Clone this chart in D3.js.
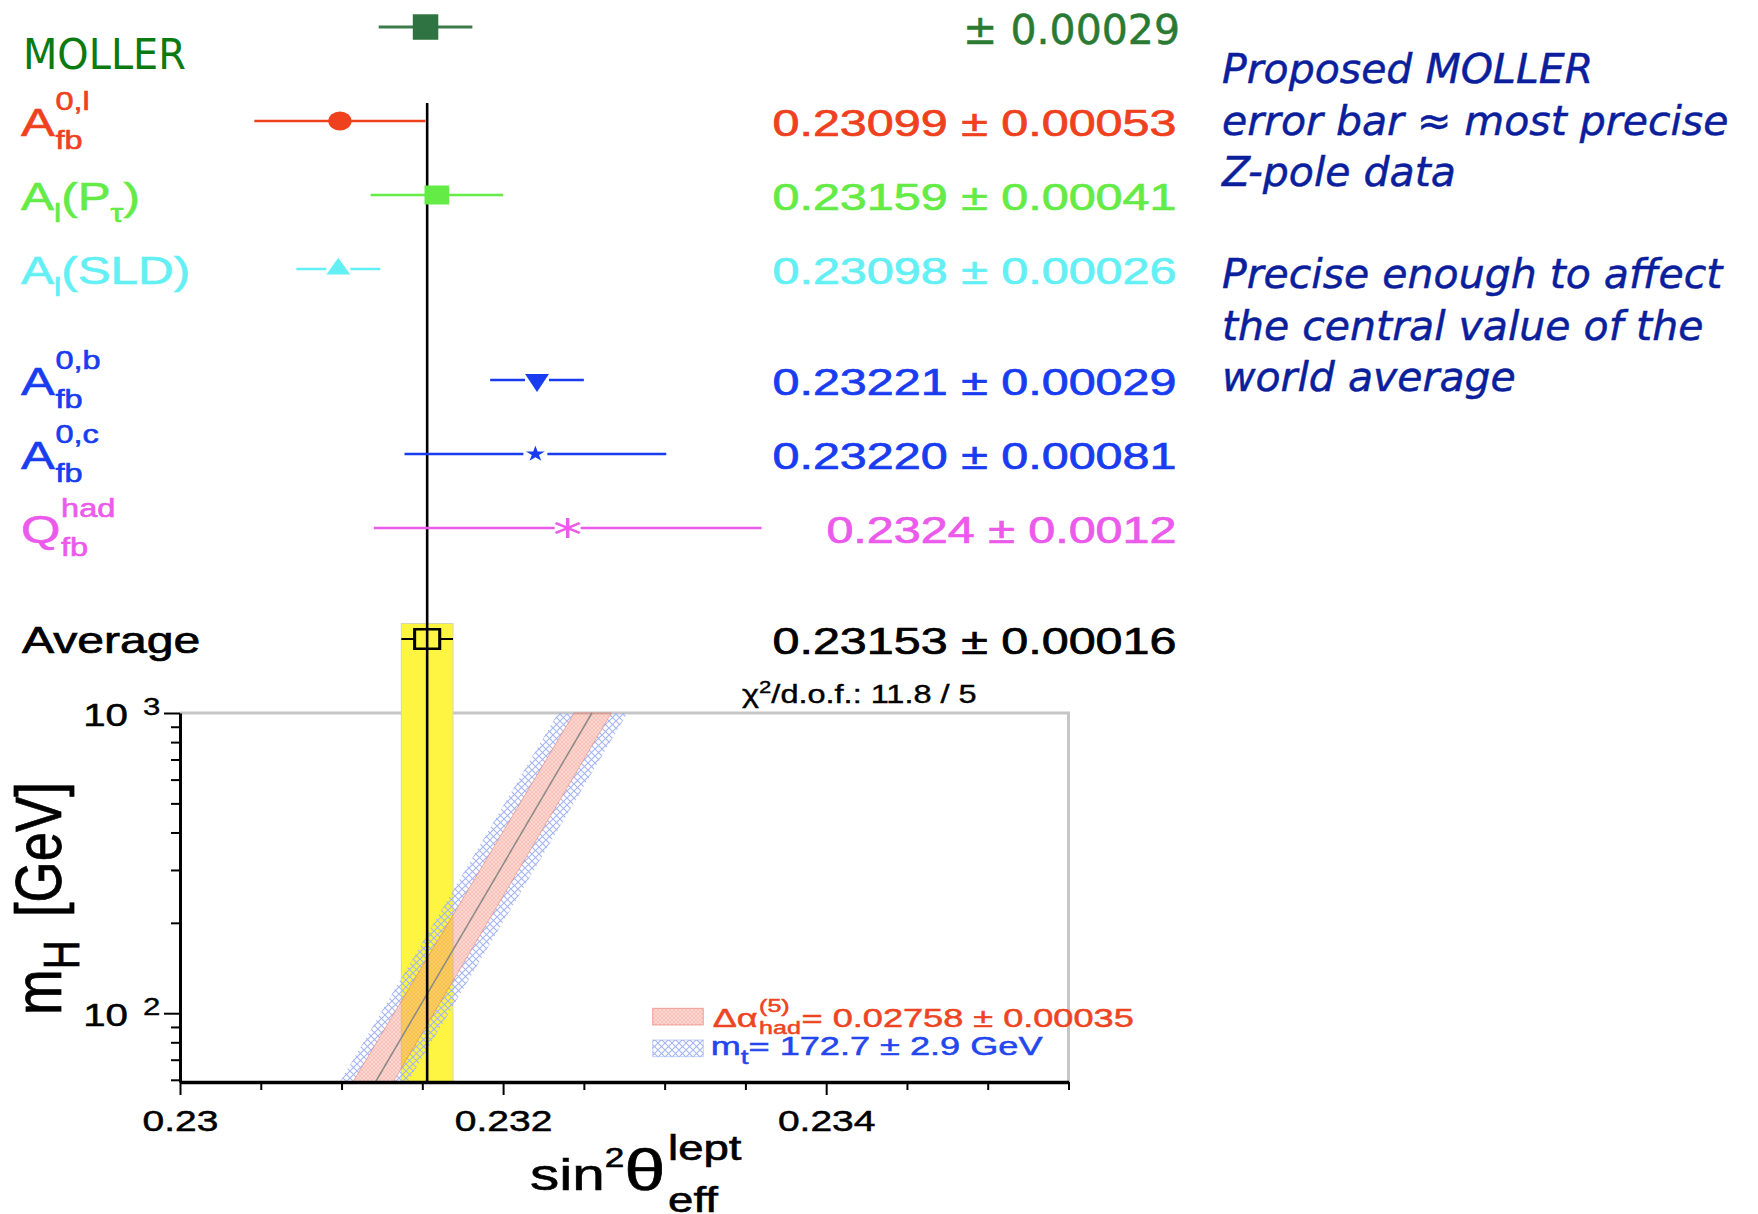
<!DOCTYPE html>
<html>
<head>
<meta charset="utf-8">
<script src="https://cdn.jsdelivr.net/npm/d3@7"></script>
<style>
  html, body { margin: 0; padding: 0; background: #fff; }
  svg { display: block; }
</style>
</head>
<body>
<div id="plot"></div>
<script>
// sin^2 theta_eff^lept measurements
var names = ["MOLLER", "Afb0l", "AlPtau", "AlSLD", "Afb0b", "Afb0c", "Qfbhad", "Average"];
var values = [0.23152, 0.23099, 0.23159, 0.23098, 0.23221, 0.23220, 0.2324, 0.23153];
var errors = [0.00029, 0.00053, 0.00041, 0.00026, 0.00029, 0.00081, 0.0012, 0.00016];
var valueLabels = ["± 0.00029", "0.23099 ± 0.00053", "0.23159 ± 0.00041", "0.23098 ± 0.00026",
  "0.23221 ± 0.00029", "0.23220 ± 0.00081", "0.2324 ± 0.0012", "0.23153 ± 0.00016"];
var chi2Label = ["χ", "2", "/d.o.f.: 11.8 / 5"];

// SM prediction bands: sin^2 at the two mH ends of the plot
var bandMH = [59, 1000];
var centreLine = [0.23121, 0.23255];
var alphaLow = [0.23107, 0.23244];
var alphaHigh = [0.23132, 0.23267];
var mtLow = [0.23099, 0.23234];
var mtHigh = [0.23141, 0.23277];

var xMajor = [0.23, 0.232, 0.234];
var xMinor = [0.2305, 0.231, 0.2315, 0.2325, 0.233, 0.2335, 0.2345, 0.235, 0.2355];
var yMajor = [100, 1000];
var yMinor = [60, 70, 80, 90, 200, 300, 400, 500, 600, 700, 800, 900];

var legendLabels = ["= 0.02758 ± 0.00035", "= 172.7 ± 2.9 GeV"];
var noteLines = ["Proposed MOLLER", "error bar ≈ most precise", "Z-pole data", "",
  "Precise enough to affect", "the central value of the", "world average"];

// styling
var colors = ["#2e7341", "#f0411e", "#64eb46", "#63f0f5", "#193cf0", "#193cf0", "#eb5aeb", "#000000"];
var markerTypes = ["square", "circle", "square", "triangle", "triangleDown", "star", "asterisk", "openSquare"];
var markerSizes = [650, 283, 361, 161, 187, 77, 282, 384];
var markerStretch = [1, 1.22, 1.3, 1.24, 1.15, 1.2, 1.4, 1.28];
var barGap = [0, 0, 0, 12, 12, 12, 13, 12.5];
var rowSlots = [-1.27, 0, 1, 2, 3.5, 4.5, 5.5, 7];

var HELV = "'Liberation Sans', Arial, Helvetica, sans-serif";
var DEJA = "'DejaVu Sans', sans-serif";

var svg = d3.select("#plot").append("svg")
  .attr("width", 1758)
  .attr("height", 1214);

var x = d3.scaleLinear().domain([0.23, 0.2355]).range([180, 1068.5]);
var y = d3.scaleLog().domain([59, 1000]).range([1082, 713]);
var row = d3.scaleLinear().domain([0, 1]).range([121, 195]);

function stretched(parent, px, py, sx) {
  return parent.append("g").attr("transform", "translate(" + px + "," + py + ") scale(" + sx + ",1)");
}
// slightly heavier text, like the anti-aliased ROOT output
function heavy(sel, color, w) {
  return sel.attr("fill", color).attr("stroke", color).attr("stroke-width", w || 0.6);
}

// patterns for the bands
var defs = svg.append("defs");
var mtPat = defs.append("pattern").attr("id", "mtHatch")
  .attr("patternUnits", "userSpaceOnUse").attr("width", 7).attr("height", 7);
mtPat.append("path").attr("d", "M0,0L7,7M7,0L0,7")
  .attr("stroke", "#a4b5f4").attr("stroke-width", 1.1).attr("fill", "none");
var alPat = defs.append("pattern").attr("id", "alphaHatch")
  .attr("patternUnits", "userSpaceOnUse").attr("width", 4).attr("height", 4);
alPat.append("rect").attr("width", 4).attr("height", 4).attr("fill", "rgba(244,150,130,0.38)");
alPat.append("path").attr("d", "M0,0L4,4M4,0L0,4")
  .attr("stroke", "rgba(230,100,80,0.25)").attr("stroke-width", 0.7).attr("fill", "none");

// frame (top and right, grey)
svg.append("path")
  .attr("d", "M" + x(0.23) + "," + y(1000) + "H" + x(0.2355) + "V" + y(59))
  .attr("fill", "none").attr("stroke", "#c6c6c6").attr("stroke-width", 3);

// average band
var avg = values[7], avgErr = errors[7];
svg.append("rect")
  .attr("x", x(avg - avgErr))
  .attr("width", x(avg + avgErr) - x(avg - avgErr))
  .attr("y", row(rowSlots[7]) - 15.5)
  .attr("height", y(59) - row(rowSlots[7]) + 15.5)
  .attr("fill", "#fdf542")
  .attr("stroke", "#d6d6b0").attr("stroke-width", 1);

// SM bands
var bandRows = bandMH.map(function(m, i) {
  return {mh: m, c: centreLine[i], aLo: alphaLow[i], aHi: alphaHigh[i], tLo: mtLow[i], tHi: mtHigh[i]};
});
function band(lo, hi) {
  return d3.area().y(function(d) { return y(d.mh); })
    .x0(function(d) { return x(d[lo]); })
    .x1(function(d) { return x(d[hi]); });
}
svg.append("path").datum(bandRows).attr("d", band("tLo", "aLo")).attr("fill", "url(#mtHatch)");
svg.append("path").datum(bandRows).attr("d", band("aHi", "tHi")).attr("fill", "url(#mtHatch)");
svg.append("path").datum(bandRows).attr("d", band("aLo", "aHi"))
  .attr("fill", "url(#alphaHatch)")
  .attr("stroke", "rgba(225,90,75,0.4)").attr("stroke-width", 1);
svg.append("path").datum(bandRows)
  .attr("d", d3.line().x(function(d) { return x(d.c); }).y(function(d) { return y(d.mh); }))
  .attr("fill", "none").attr("stroke", "#8a8a8a").attr("stroke-width", 1.5);

// axes
function styleAxis(g, width) {
  g.select(".domain").attr("stroke", "#000").attr("stroke-width", width);
  g.selectAll(".tick line").attr("stroke", "#000").attr("stroke-width", 2);
}
var xAxis = svg.append("g").attr("transform", "translate(0," + y(59) + ")")
  .call(d3.axisBottom(x).tickValues(xMajor).tickSize(13).tickSizeOuter(0).tickFormat(d3.format(".3~f")));
styleAxis(xAxis, 3.5);
heavy(xAxis.selectAll(".tick text")
  .attr("y", 48.7).attr("dy", 0)
  .attr("transform", "scale(1.3,1)")
  .style("font-family", HELV).style("font-size", "30px"), "#000", 0.5);
var xMinorAxis = svg.append("g").attr("transform", "translate(0," + y(59) + ")")
  .call(d3.axisBottom(x).tickValues(xMinor).tickSize(8).tickSizeOuter(0).tickFormat(""));
xMinorAxis.select(".domain").remove();
xMinorAxis.selectAll(".tick line").attr("stroke", "#000").attr("stroke-width", 2);

var yAxis = svg.append("g").attr("transform", "translate(" + x(0.23) + ",0)")
  .call(d3.axisLeft(y).tickValues(yMajor).tickSize(16).tickSizeOuter(0).tickFormat(""));
styleAxis(yAxis, 3);
var yMinorAxis = svg.append("g").attr("transform", "translate(" + x(0.23) + ",0)")
  .call(d3.axisLeft(y).tickValues(yMinor).tickSize(9).tickSizeOuter(0).tickFormat(""));
yMinorAxis.select(".domain").remove();
yMinorAxis.selectAll(".tick line").attr("stroke", "#000").attr("stroke-width", 2);

yAxis.selectAll(".tick").each(function(d) {
  var t = d3.select(this);
  heavy(stretched(t, -52, 12.5, 1.3).append("text")
    .attr("text-anchor", "end").style("font-family", HELV).style("font-size", "31px")
    .text("10"), "#000", 0.5);
  heavy(stretched(t, -37, 1, 1.3).append("text")
    .attr("text-anchor", "start").style("font-family", HELV).style("font-size", "24px")
    .text(String(Math.round(Math.log10(d)))), "#000", 0.4);
});

// average vertical line
svg.append("line")
  .attr("x1", x(avg)).attr("x2", x(avg))
  .attr("y1", row(rowSlots[1]) - 18).attr("y2", y(59))
  .attr("stroke", "#000").attr("stroke-width", 2.6);

// error bars and markers
var symbolFor = {
  square: d3.symbolSquare, openSquare: d3.symbolSquare, circle: d3.symbolCircle,
  triangle: d3.symbolTriangle, triangleDown: d3.symbolTriangle, star: d3.symbolStar,
  asterisk: d3.symbolAsterisk || d3.symbolCross
};
names.forEach(function(n, i) {
  var cx = x(values[i]), cy = row(rowSlots[i]);
  var lo = x(values[i] - errors[i]), hi = x(values[i] + errors[i]);
  svg.append("path")
    .attr("d", "M" + lo + "," + cy + "H" + (cx - barGap[i]) + "M" + (cx + barGap[i]) + "," + cy + "H" + hi)
    .attr("stroke", i === 0 ? "#3b7b4b" : colors[i])
    .attr("stroke-width", i === 0 ? 3 : (i === 7 ? 2 : 2.6))
    .attr("fill", "none");
  var type = markerTypes[i];
  var rot = type === "triangleDown" ? " rotate(180)" : "";
  var m = svg.append("path")
    .attr("d", d3.symbol().type(symbolFor[type]).size(markerSizes[i])())
    .attr("transform", "translate(" + cx + "," + cy + ") scale(" + markerStretch[i] + ",1)" + rot);
  if (type === "openSquare" || type === "asterisk") {
    m.attr("fill", "none").attr("stroke", colors[i]).attr("stroke-width", 2.4);
  } else {
    m.attr("fill", colors[i]);
  }
});

// value texts
valueLabels.forEach(function(v, i) {
  var cy = row(rowSlots[i]);
  if (i === 0) {
    heavy(svg.append("text").attr("x", 1180).attr("y", cy + 16.6)
      .attr("text-anchor", "end").style("font-family", DEJA).style("font-size", "41px")
      .text(v), "#2b7a33", 0.5);
  } else {
    heavy(stretched(svg, 1176.5, cy + 14.5, 1.3).append("text")
      .attr("text-anchor", "end").style("font-family", HELV).style("font-size", "37.3px")
      .text(v), colors[i], 0.7);
  }
});

// row labels
function stackLabel(cy, color, main, sub, sup) {
  var g = heavy(stretched(svg, 21, cy + 14.5, 1.3), color, 0.6).style("font-family", HELV);
  var t = g.append("text").style("font-size", "39px").text(main);
  var w = t.node().getComputedTextLength();
  g.append("text").attr("x", w + 0.5).attr("y", 13).style("font-size", "25px").text(sub);
  g.append("text").attr("x", w + 0.5).attr("y", -25.5).style("font-size", "25px").text(sup);
}
function seqLabel(cy, color, parts) {
  var t = heavy(stretched(svg, 21, cy + 14.5, 1.3).append("text"), color, 0.6)
    .style("font-family", HELV);
  var level = 0;
  parts.forEach(function(p) {
    var target = p[1] ? 12 : 0;
    t.append("tspan").attr("dy", target - level)
      .style("font-size", p[1] ? "25px" : "38px").text(p[0]);
    level = target;
  });
}
var moller = svg.append("text").attr("x", 23).attr("y", row(rowSlots[0]) + 41.5)
  .style("font-family", DEJA).style("font-size", "43px").attr("fill", "#0b7a10").text("MOLLER");
var mw = moller.node().getComputedTextLength();
moller.attr("transform", "translate(23,0) scale(" + (163 / mw) + ",1) translate(-23,0)");

stackLabel(row(rowSlots[1]), colors[1], "A", "fb", "0,l");
seqLabel(row(rowSlots[2]), colors[2], [["A", 0], ["l", 1], ["(P", 0], ["τ", 1], [")", 0]]);
seqLabel(row(rowSlots[3]), colors[3], [["A", 0], ["l", 1], ["(SLD)", 0]]);
stackLabel(row(rowSlots[4]), colors[4], "A", "fb", "0,b");
stackLabel(row(rowSlots[5]), colors[5], "A", "fb", "0,c");
stackLabel(row(rowSlots[6]), colors[6], "Q", "fb", "had");
heavy(stretched(svg, 22, row(rowSlots[7]) + 14, 1.3).append("text")
  .style("font-family", HELV).style("font-size", "37px").text("Average"), "#000", 0.7);

// chi2 text
var chi = heavy(stretched(svg, 742, 703, 1.3).append("text"), "#000", 0.4)
  .style("font-family", HELV).style("font-size", "25px");
chi.append("tspan").text(chi2Label[0]);
chi.append("tspan").attr("dy", -10).style("font-size", "17px").text(chi2Label[1]);
chi.append("tspan").attr("dy", 10).text(chi2Label[2]);

// legend
svg.append("rect").attr("x", 652.7).attr("y", 1008.3).attr("width", 50.6).attr("height", 16.7)
  .attr("fill", "url(#alphaHatch)").attr("stroke", "rgba(225,90,75,0.5)").attr("stroke-width", 1);
svg.append("rect").attr("x", 652.7).attr("y", 1040).attr("width", 50.6).attr("height", 16.7)
  .attr("fill", "url(#mtHatch)").attr("stroke", "rgba(140,160,240,0.5)").attr("stroke-width", 1);

var lg1 = heavy(stretched(svg, 712.7, 1026.7, 1.39), "#ee4422", 0.5).style("font-family", HELV);
var da = lg1.append("text").style("font-size", "26px").text("Δα");
var daw = da.node().getComputedTextLength();
var hadT = lg1.append("text").attr("x", daw + 1).attr("y", 7.5).style("font-size", "18px").text("had");
lg1.append("text").attr("x", daw + 1).attr("y", -15).style("font-size", "18px").text("(5)");
lg1.append("text").attr("x", daw + 1 + hadT.node().getComputedTextLength() + 0.5)
  .style("font-size", "26px").text(legendLabels[0]);

var lg2 = heavy(stretched(svg, 710.7, 1055, 1.39), "#2446ee", 0.5).style("font-family", HELV);
var mt = lg2.append("text").style("font-size", "26px");
mt.append("tspan").text("m");
mt.append("tspan").attr("dy", 9).style("font-size", "20px").text("t");
mt.append("tspan").attr("dy", -9).text(legendLabels[1]);

// x axis title
var xt = heavy(stretched(svg, 530, 1190, 1.3), "#000", 0.6).style("font-family", HELV);
var xtMain = xt.append("text");
xtMain.append("tspan").style("font-size", "45px").text("sin");
xtMain.append("tspan").attr("dy", -23).style("font-size", "27px").text("2");
xtMain.append("tspan").attr("dy", 23).style("font-size", "57px").text("θ");
var xtw = xtMain.node().getComputedTextLength();
xt.append("text").attr("x", xtw + 2).attr("y", -30).style("font-size", "35px").text("lept");
xt.append("text").attr("x", xtw + 2).attr("y", 22).style("font-size", "35px").text("eff");

// y axis title
var yt = svg.append("g");
var ytText = heavy(yt.append("text"), "#000", 0.6).style("font-family", HELV);
ytText.append("tspan").style("font-size", "52px").text("m");
ytText.append("tspan").attr("dy", 14).style("font-size", "38px").text("H");
ytText.append("tspan").attr("dy", -14).attr("dx", 22).style("font-size", "50px").text("[GeV]");
var ytw = ytText.node().getComputedTextLength() + 22;
yt.attr("transform", "translate(61,1015) scale(1.3,1) rotate(-90) scale(" + (233 / ytw) + ",1)");

// note on the right
svg.append("g").selectAll("text")
  .data(noteLines)
  .enter().append("text")
  .attr("x", 1222)
  .attr("y", function(d, i) { return 83.3 + i * 51.25; })
  .style("font-family", DEJA).style("font-style", "italic").style("font-size", "41px")
  .attr("fill", "#0b1e9c").attr("stroke", "#0b1e9c").attr("stroke-width", 0.5)
  .text(function(d) { return d; });
</script>
</body>
</html>
